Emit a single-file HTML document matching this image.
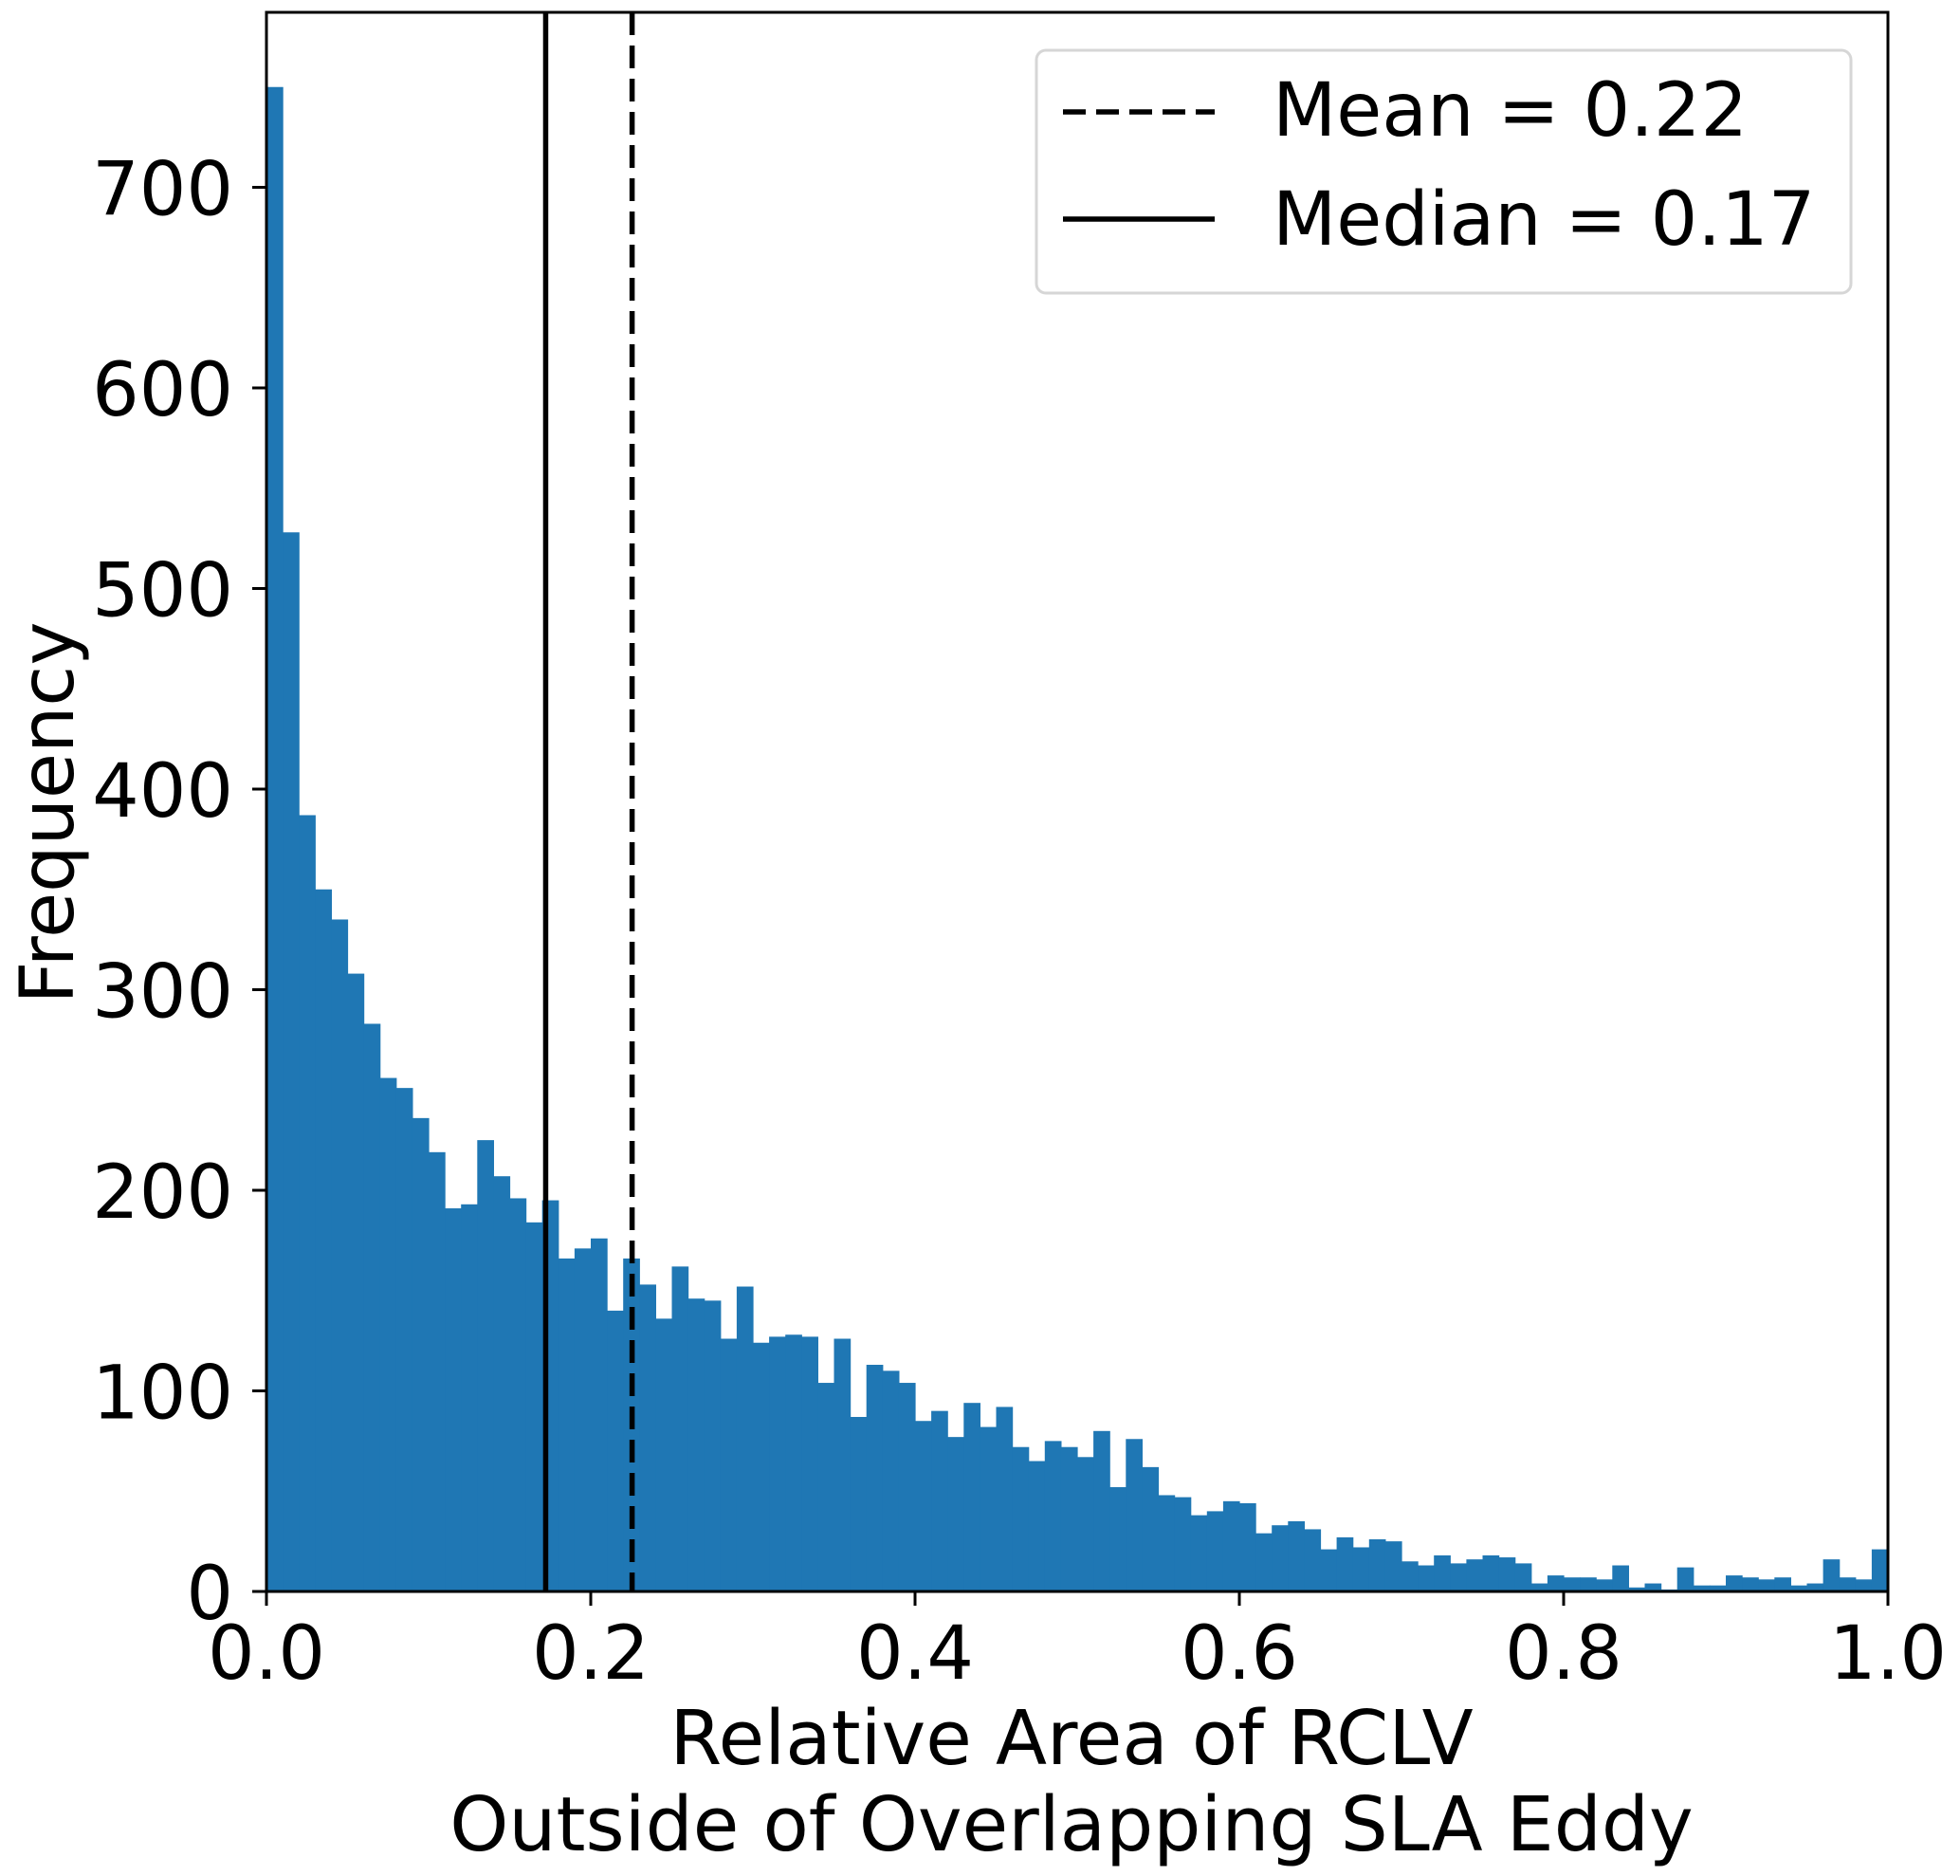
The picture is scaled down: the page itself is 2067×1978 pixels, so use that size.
<!DOCTYPE html>
<html><head><meta charset="utf-8"><style>
html,body{margin:0;padding:0;background:#fff;}
svg{display:block;font-family:"DejaVu Sans","Liberation Sans",sans-serif;}
</style></head><body>
<svg id="chart" width="2067" height="1978" viewBox="0 0 2067 1978" xmlns="http://www.w3.org/2000/svg">
<g id="bars"></g>
<g id="lines"></g>
<g id="axes"></g>
<g id="legend">
  <rect x="1093" y="53" width="859" height="256" rx="10" fill="#fff" fill-opacity="0.8" stroke="#d6d6d6" stroke-width="3"/>
  <line x1="1121" y1="118" x2="1281" y2="118" stroke="#000" stroke-width="5.5" stroke-dasharray="24 11"/>
  <text x="1342" y="143" font-size="78">Mean = 0.22</text>
  <line x1="1121" y1="231" x2="1281" y2="231" stroke="#000" stroke-width="5.5"/>
  <text x="1342" y="258" font-size="78">Median = 0.17</text>
</g>
<text x="1130" y="1860" font-size="79" text-anchor="middle">Relative Area of RCLV</text>
<text x="1130" y="1951" font-size="79" text-anchor="middle">Outside of Overlapping SLA Eddy</text>
<text x="0" y="0" font-size="78" text-anchor="middle" transform="translate(77,857) rotate(-90)">Frequency</text>
</svg>
<script>
const counts = [750,528,387,350,335,308,283,256,251,236,219,191,193,225,207,196,184,195,166,171,176,140,166,153,136,162,146,145,126,152,124,127,128,127,104,126,87,113,110,104,85,90,77,94,82,92,72,65,75,72,67,80,52,76,62,48,47,38,40,45,44,29,33,35,31,21,27,22,26,25,15,13,18,14,16,18,17,14,4,8,7,7,6,13,2,4,1,12,3,3,8,7,6,7,3,4,16,7,6,21];
const binStart = 0, binWidth = 0.01;
const meanValue = 0.2255;
const medianValue = 0.1722;
const xTicks = [0,0.2,0.4,0.6,0.8,1.0];
const xTickLabels = ["0.0","0.2","0.4","0.6","0.8","1.0"];
const yTicks = [0,100,200,300,400,500,600,700];
const yTickLabels = ["0","100","200","300","400","500","600","700"];

const L=281, R=1991, T=13, B=1678;
const xs = v => L + (v-0)/(1-0)*(R-L);
const ys = v => B - v*(B-197.5)/700;
const NS="http://www.w3.org/2000/svg";
function mk(tag, attrs, parent){const e=document.createElementNS(NS,tag);for(const k in attrs)e.setAttribute(k,attrs[k]);parent.appendChild(e);return e;}

const bars=document.getElementById('bars');
counts.forEach((c,i)=>{
  const x0=xs(binStart+i*binWidth), x1=xs(binStart+(i+1)*binWidth);
  const r=mk('rect',{x:x0,y:ys(c),width:x1-x0+0.6,height:ys(0)-ys(c),fill:'#1f77b4'},bars);
  
  
});

const lines=document.getElementById('lines');
const ml=mk('line',{x1:xs(medianValue),x2:xs(medianValue),y1:T,y2:B,stroke:'#000','stroke-width':5.5},lines);


const mn=mk('line',{x1:xs(meanValue),x2:xs(meanValue),y1:T,y2:B,stroke:'#000','stroke-width':5.5,'stroke-dasharray':'24 11'},lines);



const axes=document.getElementById('axes');
const frame=mk('rect',{x:L,y:T,width:R-L,height:B-T,fill:'none',stroke:'#000','stroke-width':3},axes);


xTicks.forEach((v,i)=>{
  const t=mk('line',{x1:xs(v),x2:xs(v),y1:B,y2:B+15,stroke:'#000','stroke-width':3},axes);
  
  
  const tx=mk('text',{x:xs(v),y:1770,'font-size':78,'text-anchor':'middle'},axes);
  tx.textContent=xTickLabels[i];
  
  
});
yTicks.forEach((v,i)=>{
  const t=mk('line',{x1:L-15,x2:L,y1:ys(v),y2:ys(v),stroke:'#000','stroke-width':3},axes);
  
  
  const tx=mk('text',{x:246,y:ys(v)+29,'font-size':78,'text-anchor':'end'},axes);
  tx.textContent=yTickLabels[i];
  
  
});
</script>
</body></html>
